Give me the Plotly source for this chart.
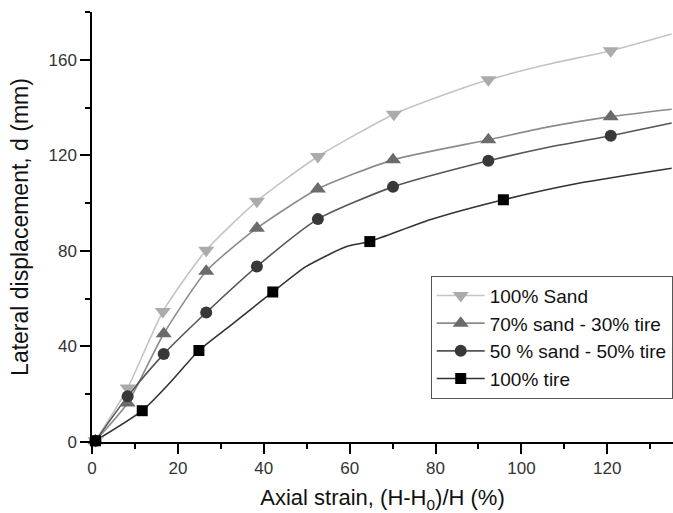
import plotly.graph_objects as go

# ---------------- data ----------------
series_names = ["100% Sand", "70% sand - 30% tire", "50 % sand - 50% tire", "100% tire"]

# marker points
sand_x = [0.8, 8.3, 16.5, 26.6, 38.4, 52.6, 70.3, 92.3, 120.8]
sand_y = [0.5, 22.6, 54.6, 80.3, 100.8, 119.5, 137.2, 151.6, 163.8]

s70_x = [0.8, 8.3, 16.7, 26.6, 38.4, 52.6, 70.1, 92.3, 120.8]
s70_y = [0.5, 16.3, 45.3, 71.5, 89.5, 105.9, 118.1, 126.5, 136.2]

s50_x = [0.8, 8.3, 16.7, 26.6, 38.4, 52.6, 70.1, 92.3, 120.8]
s50_y = [0.5, 19.1, 36.8, 54.2, 73.5, 93.3, 106.8, 117.7, 128.2]

tire_x = [0.8, 11.7, 24.9, 42.1, 64.7, 95.8]
tire_y = [0.5, 13.1, 38.3, 62.8, 83.9, 101.4]

# additional points along the measured curves (between / after markers)
sand_line_x = [81.5, 106.0, 135.0]
sand_line_y = [145.0, 158.0, 170.8]
s70_line_x = [106.0, 135.0]
s70_line_y = [131.8, 139.3]
s50_line_x = [106.0, 135.0]
s50_line_y = [123.3, 133.5]
tire_line_x = [18.1, 32.0, 49.9, 59.3, 78.7, 113.6, 135.0]
tire_line_y = [24.7, 48.4, 73.5, 81.8, 93.0, 108.4, 114.6]

x_ticks = [0, 20, 40, 60, 80, 100, 120]
y_ticks = [0, 40, 80, 120, 160]

# ---------------- styles ----------------
line_colors = ["#c4c4c4", "#8c8c8c", "#555555", "#333333"]
marker_colors = ["#ababab", "#6b6b6b", "#383838", "#000000"]
symbols = ["triangle-down", "triangle-up", "circle", "square"]
msizes = [14, 14, 12, 11]

marker_sets = [(sand_x, sand_y), (s70_x, s70_y), (s50_x, s50_y), (tire_x, tire_y)]
extra_sets = [(sand_line_x, sand_line_y), (s70_line_x, s70_line_y),
              (s50_line_x, s50_line_y), (tire_line_x, tire_line_y)]

FONT = "Liberation Sans, Arial, sans-serif"

fig = go.Figure()

# legend entries
for i, name in enumerate(series_names):
    fig.add_trace(go.Scatter(
        x=[None], y=[None], mode="lines+markers", name=name,
        line=dict(color=line_colors[i], width=1.6),
        marker=dict(symbol=symbols[i], size=msizes[i], color=marker_colors[i]),
        showlegend=True))

for i in range(4):
    mx, my = marker_sets[i]
    ex, ey = extra_sets[i]
    pts = sorted(zip(list(mx) + list(ex), list(my) + list(ey)))
    lx = [p[0] for p in pts]
    ly = [p[1] for p in pts]
    fig.add_trace(go.Scatter(
        x=lx, y=ly, mode="lines", showlegend=False, hoverinfo="skip",
        line=dict(color=line_colors[i], width=1.6, shape="spline", smoothing=0.6)))
for i in range(4):
    mx, my = marker_sets[i]
    fig.add_trace(go.Scatter(
        x=mx, y=my, mode="markers", showlegend=False, cliponaxis=False,
        marker=dict(symbol=symbols[i], size=msizes[i], color=marker_colors[i],
                    line=dict(width=0))))

fig.update_layout(
    width=673, height=513,
    margin=dict(l=92, r=0, t=12, b=71, autoexpand=False),
    paper_bgcolor="white", plot_bgcolor="white",
    font=dict(family=FONT, color="#222222"),
    showlegend=True,
    legend=dict(
        x=0.583, y=0.387, xanchor="left", yanchor="top",
        bgcolor="white", bordercolor="#555555", borderwidth=1,
        font=dict(family=FONT, size=19, color="#111111"),
        itemwidth=48, tracegroupgap=0),
)

fig.update_xaxes(
    range=[0, 135.3], tickvals=x_ticks, ticktext=[str(v) for v in x_ticks],
    showgrid=False, zeroline=False, showline=True, linecolor="black", linewidth=1.5,
    ticks="outside", ticklen=10, tickwidth=1.5, tickcolor="black",
    minor=dict(dtick=10, ticks="outside", ticklen=5, tickwidth=1.5, tickcolor="black", showgrid=False),
    tickfont=dict(family=FONT, size=17, color="#333333"),
    title=dict(text="Axial strain, (H-H<sub>0</sub>)/H (%)", standoff=17,
               font=dict(family=FONT, size=22, color="#111111")),
    automargin=False,
)
fig.update_yaxes(
    range=[0, 180], tickvals=y_ticks, ticktext=[str(v) for v in y_ticks],
    showgrid=False, zeroline=False, showline=True, linecolor="black", linewidth=1.5,
    ticks="outside", ticklen=10, tickwidth=1.5, tickcolor="black",
    minor=dict(dtick=20, ticks="outside", ticklen=5, tickwidth=1.5, tickcolor="black", showgrid=False),
    tickfont=dict(family=FONT, size=17, color="#333333"),
    title=dict(text="Lateral displacement, d (mm)", standoff=13,
               font=dict(family=FONT, size=23, color="#111111")),
    automargin=False,
)

fig.write_html("out.html")
